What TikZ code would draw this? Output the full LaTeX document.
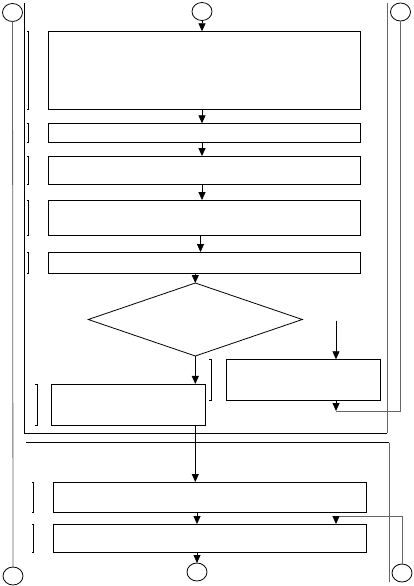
\documentclass[tikz,border=0pt]{standalone}
\usetikzlibrary{arrows.meta,shapes.geometric,calc}
\begin{document}
\begin{tikzpicture}[x=1pt,y=-1pt,line width=0.8pt,
 boxnode/.style={draw,rectangle,inner sep=0pt,outer sep=0pt},
 conn/.style={draw,ellipse,minimum width=20pt,minimum height=18pt,inner sep=0pt,outer sep=0pt},
 decision/.style={draw,diamond,inner sep=0pt,outer sep=0pt},
 arr/.style={-{Triangle[width=7pt,length=8pt]}},
 longline/.style={draw=black!60},
 brk/.style={line width=0.8pt}]
\useasboundingbox (0,0) rectangle (414,586);
\fill[white] (0,0) rectangle (414,586);

% connector circles
\node[conn] (c1) at (202,11.5) {};
\node[conn] (c2) at (12.5,12.5) {};
\node[conn] (c3) at (400.5,12) {};
\node[conn] (c4) at (197,572) {};
\node[conn] (c5) at (13,576) {};
\node[conn] (c6) at (402,573) {};

% boxes
\node[boxnode,minimum width=312.4pt,minimum height=78pt] (b1) at (204.5,70.3) {};
\node[boxnode,minimum width=312.4pt,minimum height=19pt] (b2) at (204.5,132.8) {};
\node[boxnode,minimum width=312.4pt,minimum height=28.7pt] (b3) at (204.5,170.4) {};
\node[boxnode,minimum width=312.4pt,minimum height=35.3pt] (b4) at (204.5,217.7) {};
\node[boxnode,minimum width=312.4pt,minimum height=21.3pt] (b5) at (204.5,262.7) {};
\node[decision,minimum width=214pt,minimum height=73pt] (d) at (195.3,319.5) {};
\node[boxnode,minimum width=153.3pt,minimum height=41.7pt] (b6) at (128.3,404.8) {};
\node[boxnode,minimum width=153.3pt,minimum height=41pt] (b7) at (303.3,379.8) {};
\node[boxnode,minimum width=312.7pt,minimum height=30pt] (b8) at (209.7,497) {};
\node[boxnode,minimum width=312.7pt,minimum height=28.3pt] (b9) at (209.7,538.2) {};

% brackets
\foreach \b/\s in {b1/20.3,b2/20.3,b3/20.3,b4/20.3,b5/20.3,b6/14.7,b7/15.7,b8/19.6,b9/19.6}{
  \draw[brk] ([xshift=-\s pt-1.5pt]\b.north west) -- ([xshift=-\s pt]\b.north west)
     -- ([xshift=-\s pt]\b.south west) -- ([xshift=-\s pt-1.5pt]\b.south west);
}

% main arrows
\draw[arr] (c1.south) -- (c1.south |- b1.north);
\draw[arr] (b1.south -| c1.south) -- (b2.north -| c1.south);
\draw[arr] (b2.south -| c1.south) -- (b3.north -| c1.south);
\draw[arr] (b3.south -| c1.south) -- (b4.north -| c1.south);
\draw[arr] ([xshift=-4pt]b4.south) -- ([xshift=-4pt]b5.north);
\draw[arr] (b5.south -| d.north) -- (d.north);
\draw[arr] (d.south) -- (d.south |- b6.north);
\draw[arr] (b6.south -| d.south) -- (b8.north -| d.south);
\draw[arr] (b8.south -| c4.north) -- (b9.north -| c4.north);
\draw[arr] (b9.south -| c4.north) -- (c4.north);

% right branch
\coordinate (in7) at (336,320.7);
\draw[arr] (in7) -- (in7 |- b7.north);
\coordinate (j1) at (336,411);
\draw[arr] (b7.south -| j1) -- (j1);
\draw[longline] (j1) -| (c3.south);

% bottom right join
\coordinate (j2) at (336,516);
\draw[longline] (c6.north) |- (j2);
\draw[arr] (j2) -- (j2 |- b9.north);

% long left line
\draw[longline] (c2.south) -- (c5.north);

% frame A
\coordinate (fa1) at (24.5,3);
\coordinate (fa2) at (24.5,433);
\coordinate (fa3) at (387,433);
\coordinate (fa4) at (387,3);
\draw (fa1) -- (fa2) -- (fa3);
\draw[longline] (fa3) -- (fa4);

% frame B
\coordinate (fb1) at (26,442.7);
\coordinate (fb2) at (389,442.7);
\coordinate (fb3) at (389,582);
\draw (fb1) -- (fb2);
\draw[longline] (fb2) -- (fb3);
\end{tikzpicture}
\end{document}
